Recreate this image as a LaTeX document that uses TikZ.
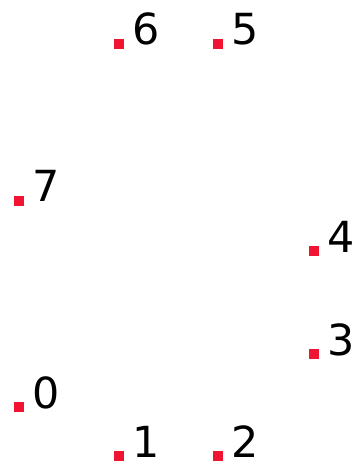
\documentclass[tikz,border=0pt]{standalone}
\usepackage{fontspec}
\setmainfont{DejaVu Sans}
\begin{document}
\begin{tikzpicture}[x=1bp,y=-1bp,
  sq/.style={fill={rgb,255:red,240;green,20;blue,50}, minimum size=9.5bp, inner sep=0pt, outer sep=0pt, draw=none},
  lbl/.style={anchor=base west, inner sep=0pt, text depth=0pt, font=\fontsize{43}{43}\selectfont}]
\useasboundingbox (0,0) rectangle (360,462);
\foreach \n/\x/\y in {6/119/44, 5/218/44, 7/19/201, 4/314/251, 3/314/354, 0/19/407, 1/119/456, 2/218/456}{
  \node[sq] (s\n) at (\x,\y) {};
  \node[lbl] (t\n) at (\x+13,\y+1) {\n};
}
\end{tikzpicture}
\end{document}
